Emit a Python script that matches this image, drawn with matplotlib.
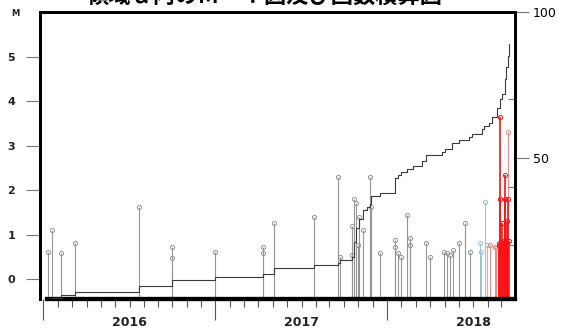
import matplotlib
matplotlib.use("Agg")
import matplotlib.pyplot as plt
import matplotlib.dates as mdates
import matplotlib.transforms as mtransforms
import pandas as pd
import numpy as np

# ---------------- data ----------------
title_text = "領域ａ内のＭ－Ｔ図及び回数積算図"

gray_dates = ["2015-07-11", "2015-07-20", "2015-08-07", "2015-09-07", "2016-01-21",
              "2016-03-31", "2016-03-31", "2016-06-30", "2016-10-11", "2016-10-11",
              "2016-11-03", "2017-01-27", "2017-03-20", "2017-03-23", "2017-04-19",
              "2017-04-19", "2017-04-22", "2017-04-27", "2017-05-01", "2017-05-04",
              "2017-05-11", "2017-05-26", "2017-05-29", "2017-06-16", "2017-07-18",
              "2017-07-18", "2017-07-25", "2017-08-01", "2017-08-14", "2017-08-20",
              "2017-08-20", "2017-09-22", "2017-10-02", "2017-10-30", "2017-11-06",
              "2017-11-12", "2017-11-19", "2017-12-02", "2017-12-14", "2017-12-26"]
gray_mags = [0.61, 1.10, 0.58, 0.80, 1.63,
             0.73, 0.47, 0.61, 0.72, 0.58,
             1.25, 1.40, 2.30, 0.50, 1.20,
             0.55, 1.80, 1.70, 0.77, 1.40,
             1.10, 2.30, 1.63, 0.58, 0.88,
             0.73, 0.58, 0.50, 1.44, 0.92,
             0.77, 0.80, 0.50, 0.61, 0.58,
             0.55, 0.65, 0.80, 1.25, 0.61]

blue_dates = ["2018-01-15", "2018-01-18", "2018-01-26", "2018-01-31"]
blue_mags = [0.80, 0.61, 1.74, 0.77]

pink_dates = ["2018-02-05", "2018-02-16", "2018-02-19", "2018-03-16"]
pink_mags = [0.77, 0.73, 0.70, 3.30]

red_dates = ["2018-02-24", "2018-02-26", "2018-02-28", "2018-02-28", "2018-03-02",
             "2018-03-04", "2018-03-06", "2018-03-08", "2018-03-09", "2018-03-10",
             "2018-03-12", "2018-03-14", "2018-03-15", "2018-03-17", "2018-03-18"]
red_mags = [0.75, 0.80, 3.65, 1.80, 0.84,
            1.25, 0.80, 0.85, 2.34, 1.80,
            0.85, 1.30, 0.80, 1.80, 0.85]

count_dates = ["2015-07-11", "2015-07-20", "2015-08-07", "2015-09-07", "2016-01-21",
               "2016-03-31", "2016-06-30", "2016-10-11", "2016-11-03", "2017-01-27",
               "2017-03-20", "2017-03-23", "2017-04-19", "2017-04-22", "2017-04-27",
               "2017-05-04", "2017-05-11", "2017-05-20", "2017-05-26", "2017-05-29",
               "2017-06-16", "2017-07-18", "2017-07-25", "2017-08-01", "2017-08-14",
               "2017-08-25", "2017-09-15", "2017-09-22", "2017-10-27", "2017-11-03",
               "2017-11-17", "2017-12-02", "2017-12-23", "2017-12-30", "2018-01-20",
               "2018-01-24", "2018-02-04", "2018-02-10", "2018-02-20", "2018-02-28",
               "2018-03-03", "2018-03-09", "2018-03-12", "2018-03-16", "2018-03-19"]
count_values = [1, 2, 3, 4, 6,
                8, 9, 10, 12, 13,
                14, 15, 16, 21, 26,
                29, 32, 33, 34, 37,
                38, 43, 44, 45, 46,
                47, 49, 51, 52, 53,
                55, 56, 57, 58, 60,
                61, 62, 64, 67, 70,
                72, 77, 81, 85, 89]

year_labels = ["2016", "2017", "2018"]
m_ticks = [0, 1, 2, 3, 4, 5]
n_ticks = [50, 100]

# ---------------- figure ----------------
fig = plt.figure(figsize=(5.61, 3.29), dpi=100)
ax = fig.add_axes([40 / 561, 1 - 299 / 329, 475 / 561, 287 / 329])
ax2 = ax.twinx()

xmin = pd.Timestamp("2015-06-24")
xmax = pd.Timestamp("2018-03-31")
ymin, ymax = -0.45, 6.01
ax.set_xlim(xmin, xmax)
ax.set_ylim(ymin, ymax)
ax2.set_ylim(1.5, 100)

def stems(dates, mags, color, lw=0.8):
    d = pd.to_datetime(dates)
    ax.vlines(d, ymin, mags, colors=color, linewidth=lw, zorder=2)
    ax.plot(d, mags, linestyle="none", marker="o", ms=3.0, mfc="none",
            mec=color, mew=0.7, zorder=3)

stems(gray_dates, gray_mags, "#959595")
stems(blue_dates, blue_mags, "#9fbfd8")
stems(pink_dates, pink_mags, "#f08a8a")
stems(red_dates, red_mags, "#ff1010", lw=1.2)

cd = pd.to_datetime(count_dates)
ax2.step(cd, count_values, where="post", color="#3a3a3a", linewidth=0.8, zorder=4)

# spines
for s in ["left", "top", "right"]:
    ax.spines[s].set_linewidth(2.0)
    ax2.spines[s].set_linewidth(2.0)
ax.spines["bottom"].set_linewidth(3.0)
ax2.spines["bottom"].set_linewidth(3.0)
ax2.spines["bottom"].set_bounds(mdates.date2num(pd.Timestamp("2015-07-08")),
                                mdates.date2num(xmax))
ax.spines["bottom"].set_bounds(mdates.date2num(pd.Timestamp("2015-07-08")),
                               mdates.date2num(xmax))

# x ticks
ax.xaxis.set_major_locator(mdates.MonthLocator(bymonth=[7], bymonthday=1))
ax.xaxis.set_minor_locator(mdates.MonthLocator())
ax.xaxis.set_major_formatter(plt.NullFormatter())
ax.tick_params(axis="x", which="major", length=15, width=0.8, color="#555555", direction="out")
ax.tick_params(axis="x", which="minor", length=6, width=0.8, color="#555555", direction="out")

trans = mtransforms.blended_transform_factory(ax.transData, fig.transFigure)
for lab in year_labels:
    ax.text(pd.Timestamp(lab + "-01-01"), 1 - 322 / 329, lab, transform=trans,
            ha="center", va="center", fontsize=9, fontweight="bold", color="#222222")

# left y ticks
ax.set_yticks(m_ticks)
ax.set_yticklabels([str(t) for t in m_ticks])
ax.tick_params(axis="y", which="major", length=10, width=0.8, color="#777777",
               direction="out", pad=8, labelsize=8)
for t in ax.get_yticklabels():
    t.set_fontweight("bold")
    t.set_color("#222222")
fig.text(15 / 561, 1 - 14 / 329, "M", fontsize=6, fontweight="bold",
         ha="center", va="center", color="#222222")

# right y ticks
ax2.set_yticks(n_ticks)
ax2.set_yticklabels([str(t) for t in n_ticks])
ax2.tick_params(axis="y", which="major", length=10, width=0.8, color="#777777",
                direction="out", pad=3, labelsize=9)
ax2.set_yticks([20, 40, 70], minor=True)
ax2.tick_params(axis="y", which="minor", length=5, width=0.8, color="#777777",
                direction="in")

# title (cut off at top edge, as in the reference)
fig.text(265 / 561, 1 - 3 / 329, title_text, fontsize=16, fontweight="bold",
         ha="center", va="baseline", family=["Noto Sans CJK JP", "DejaVu Sans"])

fig.savefig("out.png", dpi=100)
